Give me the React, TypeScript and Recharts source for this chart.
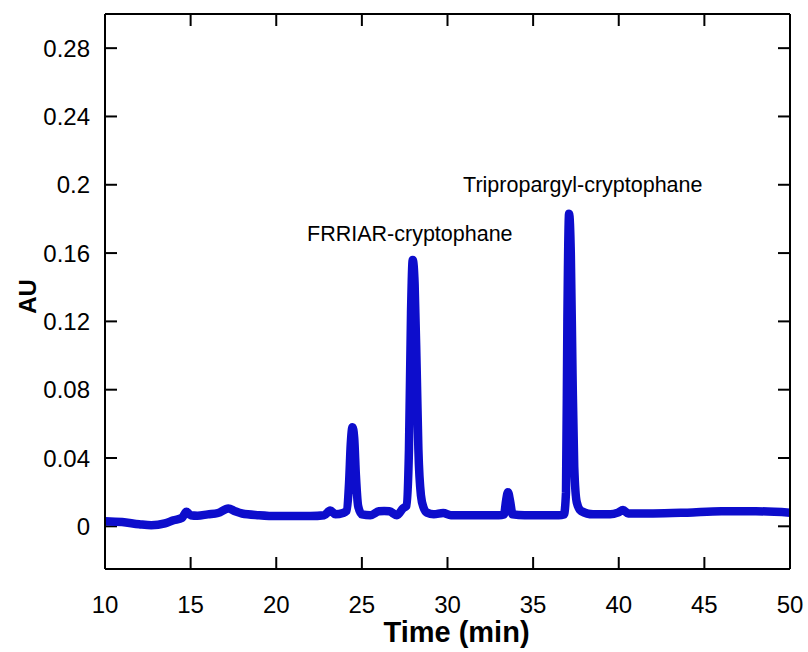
import { LineChart, Line, XAxis, YAxis, ReferenceDot, ReferenceLine } from 'recharts';

// chromatogram trace (time in min, absorbance in AU)
const times = [
  10, 11, 12, 12.7, 13.5, 14, 14.5, 14.75, 15, 15.4, 16, 16.6, 17.2, 17.6, 18, 19, 20, 21, 22, 22.8,
  23.15, 23.45, 23.9, 24.1, 24.25, 24.35, 24.45, 24.55, 24.65, 24.78, 25, 25.5, 26, 26.3, 26.6, 27.05,
  27.4, 27.6, 27.75, 27.87, 27.97, 28.08, 28.2, 28.3, 28.45, 28.6, 28.8, 29.2, 29.75, 30.2, 31, 32, 33,
  33.3, 33.42, 33.53, 33.65, 33.8, 34.5, 35.5, 36.5, 36.8, 36.92, 37.0, 37.1, 37.2, 37.3, 37.4, 37.55,
  37.8, 38.5, 39.5, 39.95, 40.25, 40.55, 42, 44, 46, 48, 50,
];
const absorbance = [
  0.003, 0.0025, 0.0012, 0.0006, 0.0017, 0.0035, 0.005, 0.0085, 0.0065, 0.0062, 0.007, 0.0078, 0.0105,
  0.0088, 0.0075, 0.0065, 0.006, 0.006, 0.006, 0.0065, 0.0092, 0.007, 0.0078, 0.009, 0.025, 0.048,
  0.058, 0.052, 0.03, 0.012, 0.007, 0.0065, 0.0088, 0.009, 0.0088, 0.0065, 0.0105, 0.012, 0.045, 0.125,
  0.156, 0.142, 0.092, 0.045, 0.018, 0.011, 0.008, 0.007, 0.0078, 0.0065, 0.0065, 0.0065, 0.0065, 0.007,
  0.015, 0.02, 0.015, 0.007, 0.0065, 0.0065, 0.0065, 0.007, 0.02, 0.12, 0.183, 0.16, 0.09, 0.035, 0.014,
  0.009, 0.007, 0.007, 0.008, 0.0095, 0.0075, 0.0075, 0.008, 0.0088, 0.0088, 0.008,
];

const xTicks = [10, 15, 20, 25, 30, 35, 40, 45, 50];
const yTicks = [0, 0.04, 0.08, 0.12, 0.16, 0.2, 0.24, 0.28];

const peakNames = ['FRRIAR-cryptophane', 'Tripropargyl-cryptophane'];
const peakLabelX = [27.8, 37.9];
const peakLabelY = [0.1716, 0.2003];

const data = times.map((t, i) => ({ t, au: absorbance[i] }));

const FONT = '"Liberation Sans", Arial, sans-serif';
const frame = { stroke: '#000', strokeWidth: 2 };

const X_DOMAIN: [number, number] = [10, 50];
const Y_DOMAIN: [number, number] = [-0.025, 0.3];

// chart box
const W = 808;
const H = 652;
const LEFT = 105;
const RIGHT = W - 18;
const TOP = 14;
const BOTTOM = H - 83;

// inward tick length (12px) expressed in axis units
const TICK_PX = 12;
const xTickLen = ((Y_DOMAIN[1] - Y_DOMAIN[0]) / (BOTTOM - TOP)) * TICK_PX;
const yTickLen = ((X_DOMAIN[1] - X_DOMAIN[0]) / (RIGHT - LEFT)) * TICK_PX;

const XTickLabel = ({ x, payload }: any) => (
  <text x={x} y={BOTTOM + 44} textAnchor="middle" fontSize={24} fontFamily={FONT} fill="#000">
    {payload.value}
  </text>
);

const YTickLabel = ({ y, payload }: any) => (
  <text x={LEFT - 15} y={y + 8.5} textAnchor="end" fontSize={24} fontFamily={FONT} fill="#000">
    {payload.value}
  </text>
);

const PeakLabel = ({ viewBox, text }: any) => {
  const cx = viewBox.x + (viewBox.width || 0) / 2;
  const cy = viewBox.y + (viewBox.height || 0) / 2;
  return (
    <text x={cx} y={cy + 7.5} textAnchor="middle" fontSize={21.5} fontFamily={FONT} fill="#000">
      {text}
    </text>
  );
};

export default function App() {
  return (
    <div style={{ position: 'absolute', left: 0, top: 0, background: '#fff' }}>
      <LineChart width={W} height={H} data={data} margin={{ top: TOP - 1, right: W - RIGHT - 1, left: 0, bottom: 0 }}>
        <XAxis
          xAxisId="b"
          dataKey="t"
          type="number"
          domain={X_DOMAIN}
          ticks={xTicks}
          allowDataOverflow
          height={H - BOTTOM}
          tickLine={false}
          axisLine={frame}
          tick={<XTickLabel />}
          label={{
            content: ({ viewBox }: any) => (
              <text
                x={viewBox.x + viewBox.width / 2 + 9}
                y={viewBox.y + 73}
                textAnchor="middle"
                fontSize={29}
                fontWeight="bold"
                fontFamily={FONT}
                fill="#000"
              >
                Time (min)
              </text>
            ),
          }}
        />
        <XAxis
          xAxisId="t"
          orientation="top"
          dataKey="t"
          type="number"
          domain={X_DOMAIN}
          allowDataOverflow
          height={1}
          tickLine={false}
          axisLine={frame}
          tick={false}
        />
        <YAxis
          yAxisId="l"
          type="number"
          domain={Y_DOMAIN}
          ticks={yTicks}
          allowDataOverflow
          width={LEFT}
          tickLine={false}
          axisLine={frame}
          tick={<YTickLabel />}
          label={{
            content: ({ viewBox }: any) => {
              const cx = viewBox.x + 27;
              const cy = viewBox.y + viewBox.height / 2 + 5;
              return (
                <text
                  x={cx}
                  y={cy}
                  transform={`rotate(-90 ${cx} ${cy})`}
                  textAnchor="middle"
                  dominantBaseline="central"
                  fontSize={24}
                  fontWeight="bold"
                  fontFamily={FONT}
                  fill="#000"
                >
                  AU
                </text>
              );
            },
          }}
        />
        <YAxis
          yAxisId="r"
          orientation="right"
          type="number"
          domain={Y_DOMAIN}
          allowDataOverflow
          width={1}
          tickLine={false}
          axisLine={frame}
          tick={false}
        />
        {/* inward tick marks on all four sides */}
        {xTicks.flatMap((t) => [
          <ReferenceLine
            key={`xb${t}`}
            xAxisId="b"
            yAxisId="l"
            segment={[{ x: t, y: Y_DOMAIN[0] }, { x: t, y: Y_DOMAIN[0] + xTickLen }]}
            stroke="#000"
            strokeWidth={2}
            ifOverflow="visible"
          />,
          <ReferenceLine
            key={`xt${t}`}
            xAxisId="b"
            yAxisId="l"
            segment={[{ x: t, y: Y_DOMAIN[1] }, { x: t, y: Y_DOMAIN[1] - xTickLen }]}
            stroke="#000"
            strokeWidth={2}
            ifOverflow="visible"
          />,
        ])}
        {yTicks.flatMap((v) => [
          <ReferenceLine
            key={`yl${v}`}
            xAxisId="b"
            yAxisId="l"
            segment={[{ x: X_DOMAIN[0], y: v }, { x: X_DOMAIN[0] + yTickLen, y: v }]}
            stroke="#000"
            strokeWidth={2}
            ifOverflow="visible"
          />,
          <ReferenceLine
            key={`yr${v}`}
            xAxisId="b"
            yAxisId="l"
            segment={[{ x: X_DOMAIN[1], y: v }, { x: X_DOMAIN[1] - yTickLen, y: v }]}
            stroke="#000"
            strokeWidth={2}
            ifOverflow="visible"
          />,
        ])}
        <Line
          xAxisId="b"
          yAxisId="l"
          dataKey="au"
          type="monotone"
          stroke="#0d0dcc"
          strokeWidth={8.5}
          strokeLinejoin="round"
          strokeLinecap="round"
          dot={false}
          isAnimationActive={false}
        />
        {peakNames.map((name, i) => (
          <ReferenceDot
            key={name}
            xAxisId="b"
            yAxisId="l"
            x={peakLabelX[i]}
            y={peakLabelY[i]}
            r={0}
            stroke="none"
            fill="none"
            ifOverflow="visible"
            label={<PeakLabel text={name} />}
          />
        ))}
      </LineChart>
    </div>
  );
}
